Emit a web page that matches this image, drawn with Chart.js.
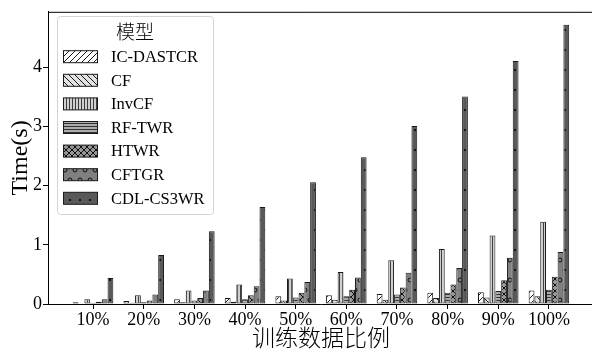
<!DOCTYPE html>
<html><head><meta charset="utf-8">
<script src="https://cdn.jsdelivr.net/npm/chart.js@4/dist/chart.umd.min.js"></script>
<style>
html,body{margin:0;padding:0;background:#fff;overflow:hidden;width:592px;height:356px}
#wrap{width:592px;height:356px;overflow:hidden;position:relative}
canvas{display:block}
</style></head><body>
<div id="wrap"><canvas id="c" width="600" height="356" style="width:600px;height:356px"></canvas></div>
<script>
// ---- data ----
const categories = ['10%','20%','30%','40%','50%','60%','70%','80%','90%','100%'];
const seriesNames = ['IC-DASTCR','CF','InvCF','RF-TWR','HTWR','CFTGR','CDL-CS3WR'];
const icDastcr = [0.03,0.05,0.08,0.10,0.13,0.15,0.17,0.19,0.20,0.23];
const cf       = [0.01,0.02,0.03,0.04,0.06,0.07,0.07,0.10,0.11,0.13];
const invCf    = [0.08,0.15,0.23,0.33,0.43,0.54,0.74,0.93,1.16,1.39];
const rfTwr    = [0.02,0.03,0.06,0.08,0.11,0.13,0.16,0.19,0.22,0.24];
const htwr     = [0.04,0.06,0.10,0.15,0.19,0.24,0.28,0.33,0.40,0.46];
const cftgr    = [0.08,0.16,0.23,0.30,0.37,0.45,0.53,0.61,0.78,0.88];
const cdlCs3wr = [0.44,0.83,1.23,1.64,2.06,2.48,3.01,3.51,4.11,4.72];
const yTicks = [0,1,2,3,4];
const xAxisTitle = '训练数据比例';
const yAxisTitle = 'Time(s)';
const legendTitle = '模型';

// ---- styles ----
const seriesValues = [icDastcr, cf, invCf, rfTwr, htwr, cftgr, cdlCs3wr];
const hatchKinds = ['/', '\\', '|', '-', 'x', 'o', '.'];
const fillColors = ['#ffffff','#e2e2e2','#cfcfcf','#ababab','#979797','#808080','#595959'];
const SERIF = "'Liberation Serif','Times New Roman','Noto Sans CJK SC',serif";
const CJK = "'Noto Sans CJK SC','Liberation Serif',sans-serif";

function makePattern(kind, bg) {
  const c = document.createElement('canvas');
  let w = 6, h = 6;
  if (kind === '|' || kind === '-') { w = 3; h = 3; }
  if (kind === 'o' || kind === '.') { w = 10; h = 20; }
  c.width = w; c.height = h;
  const g = c.getContext('2d');
  g.fillStyle = bg; g.fillRect(0, 0, w, h);
  g.strokeStyle = '#000'; g.fillStyle = '#000'; g.lineWidth = 0.9;
  if (kind === '/' || kind === 'x') {
    g.beginPath();
    for (let k = -1; k <= 1; k++) { g.moveTo(k*w, h); g.lineTo(k*w + w, 0); }
    g.stroke();
  }
  if (kind === '\\' || kind === 'x') {
    g.beginPath();
    for (let k = -1; k <= 1; k++) { g.moveTo(k*w, 0); g.lineTo(k*w + w, h); }
    g.stroke();
  }
  if (kind === '|') { g.fillStyle = 'rgba(0,0,0,0.7)'; g.fillRect(0, 0, 1, h); }
  if (kind === '-') { g.fillStyle = 'rgba(0,0,0,0.7)'; g.fillRect(0, 0, w, 1); }
  const pts = [[0,0],[w,0],[0,h],[w,h],[w/2,h/2]];
  if (kind === 'o') {
    pts.forEach(([x,y]) => { g.beginPath(); g.arc(x, y, 2, 0, Math.PI*2); g.stroke(); });
  }
  if (kind === '.') {
    pts.forEach(([x,y]) => { g.beginPath(); g.arc(x, y, 1.1, 0, Math.PI*2); g.fill(); });
  }
  return g.createPattern(c, 'repeat');
}

const patterns = hatchKinds.map((k, i) => makePattern(k, fillColors[i]));

const datasets = seriesNames.map((name, s) => ({
  label: name,
  data: seriesValues[s].map((v, i) => ({x: i, y: v})),
  backgroundColor: patterns[s],
  borderColor: '#1a1a1a',
  borderWidth: 1,
  borderSkipped: false,
  categoryPercentage: 0.8,
  barPercentage: 1.0
}));

const framePlugin = {
  id: 'frame',
  afterDraw(chart) {
    const {ctx, chartArea: a} = chart;
    ctx.save();
    ctx.strokeStyle = '#000'; ctx.lineWidth = 1;
    ctx.beginPath();
    ctx.moveTo(a.left, a.top + 0.5); ctx.lineTo(a.right, a.top + 0.5);
    ctx.stroke();
    // legend
    const bx = 57, by = 16, bw = 156, bh = 198, r = 3;
    ctx.fillStyle = 'rgba(255,255,255,0.85)';
    ctx.strokeStyle = '#d4d4d4';
    ctx.beginPath();
    ctx.roundRect(bx + 0.5, by + 0.5, bw, bh, r);
    ctx.fill(); ctx.stroke();
    ctx.fillStyle = '#000';
    ctx.textBaseline = 'middle';
    ctx.textAlign = 'center';
    ctx.font = "300 19px " + CJK;
    ctx.fillText(legendTitle, 135, 32);
    ctx.textAlign = 'left';
    ctx.font = "16.5px " + SERIF;
    seriesNames.forEach((name, i) => {
      const cy = 56.7 + i * 23.6;
      ctx.fillStyle = patterns[i];
      ctx.fillRect(63.5, cy - 6, 34, 12);
      ctx.strokeStyle = '#1a1a1a'; ctx.lineWidth = 1;
      ctx.strokeRect(63.5, cy - 6, 34, 12);
      ctx.fillStyle = '#000';
      ctx.fillText(name, 111, cy + 1);
    });
    ctx.restore();
  }
};

new Chart(document.getElementById('c'), {
  type: 'bar',
  data: {datasets},
  options: {
    responsive: false,
    devicePixelRatio: 1,
    animation: false,
    layout: {padding: {top: 8, right: 6, left: 0, bottom: 0}},
    plugins: {legend: {display: false}, tooltip: {enabled: false}},
    scales: {
      x: {
        type: 'linear',
        offset: false,
        min: -0.89, max: 9.89,
        afterBuildTicks(scale) { scale.ticks = categories.map((_, i) => ({value: i})); },
        afterFit(scale) { scale.height = 52; },
        ticks: {
          callback: (v) => categories[v],
          color: '#000', font: {family: SERIF, size: 18}, padding: 0, maxRotation: 0, autoSkip: false
        },
        grid: {display: true, offset: false, drawOnChartArea: false, drawTicks: true, tickLength: 5, color: '#000'},
        border: {display: true, color: '#000', width: 1},
        title: {display: true, text: xAxisTitle, color: '#000', font: {family: CJK, size: 23, weight: 300}, padding: {top: 0, bottom: 5}}
      },
      y: {
        type: 'linear',
        min: 0, max: 4.94,
        afterBuildTicks(scale) { scale.ticks = yTicks.map(v => ({value: v})); },
        afterFit(scale) { scale.width = 48; },
        ticks: {color: '#000', font: {family: SERIF, size: 18}, padding: 1},
        grid: {display: true, drawOnChartArea: false, drawTicks: true, tickLength: 5, color: '#000'},
        border: {display: true, color: '#000', width: 1},
        title: {display: true, text: yAxisTitle, color: '#000', font: {family: SERIF, size: 24}, padding: {top: 6, bottom: 0}}
      }
    }
  },
  plugins: [framePlugin]
});
</script>
</body></html>
